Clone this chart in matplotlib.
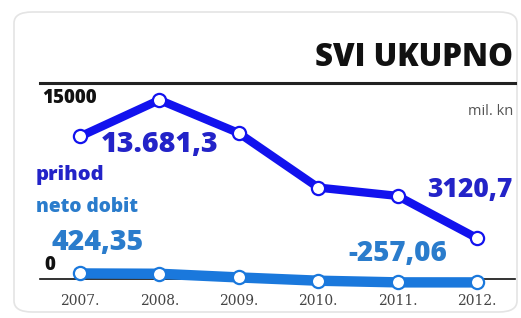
import matplotlib
matplotlib.use('Agg')
import matplotlib.pyplot as plt
from matplotlib.patches import FancyBboxPatch

# ===================== DATA =====================
years = [2007, 2008, 2009, 2010, 2011, 2012]
year_labels = ['2007.', '2008.', '2009.', '2010.', '2011.', '2012.']
prihod = [10890, 13681.3, 11150, 6985, 6350, 3120.7]
neto_dobit = [424.35, 400, 120, -130, -257.06, -260]

C_PRIHOD = '#1212ee'
C_NETO = '#1a78dc'
C_PRIHOD_TXT = '#2323c8'
C_NETO_TXT = '#2a7ccc'

plt.rcParams['font.family'] = ['Open Sans', 'DejaVu Sans']

W, H = 521, 318
fig = plt.figure(figsize=(W / 100, H / 100), dpi=100)
fig.patch.set_facecolor('white')

# card background
card = FancyBboxPatch((14 / W, 6 / H), 503 / W, 300 / H,
                      boxstyle='round,pad=0,rounding_size=0.035',
                      transform=fig.transFigure, facecolor='white',
                      edgecolor='#e4e4e4', linewidth=1.2, zorder=-5)
fig.patches.append(card)

x_left = 2007 - 40 / 79.4
x_right = 2012 + 38 / 79.4

ax = fig.add_axes([40 / W, 1 - 279 / H, 475 / W, (279 - 82.7) / H])
ax.set_zorder(2)
ax.set_xlim(x_left, x_right)
ax.set_ylim(0, 15000)
ax.axis('off')

# lines
ax.axhline(15000, color='#222222', linewidth=2.2, clip_on=False, zorder=1)
ax.axhline(0, color='#111111', linewidth=1.2, clip_on=False, zorder=1)

ax.plot(years, prihod, color=C_PRIHOD, linewidth=6, marker='o', markersize=9.5,
        markerfacecolor='white', markeredgecolor=C_PRIHOD, markeredgewidth=1.6,
        clip_on=False, zorder=3)
ax.plot(years, neto_dobit, color=C_NETO, linewidth=7.5, marker='o', markersize=9.5,
        markerfacecolor='white', markeredgecolor=C_NETO, markeredgewidth=1.6,
        clip_on=False, zorder=3)

# x labels
for x, lab in zip(years, year_labels):
    ax.text(x, -1150, lab, ha='center', va='top',
            fontsize=10, color='#444444', family=['DejaVu Serif'])

# y labels
ax.text(x_left + 0.025, 13466, '15000', ha='left', va='baseline',
        fontsize=13.5, fontweight='heavy', color='#111111')
ax.text(x_left + 0.06, 690, '0', ha='left', va='baseline',
        fontsize=13.5, fontweight='heavy', color='#111111')
ax.text(x_right - 0.02, 12548, 'mil. kn', ha='right', va='baseline',
        fontsize=10.5, color='#555555')

# value labels
ax.text(2008, 9717, '13.681,3', ha='center', va='baseline', fontsize=20.5,
        fontweight='heavy', color=C_PRIHOD_TXT)
ax.text(x_right - 0.03, 6270, '3120,7', ha='right', va='baseline',
        fontsize=19, fontweight='heavy', color=C_PRIHOD_TXT)
ax.text(2006.647, 2220, '424,35', ha='left', va='baseline', fontsize=20.5,
        fontweight='heavy', color=C_NETO_TXT)
ax.text(2010.383, 1380, '-257,06', ha='left', va='baseline', fontsize=20,
        fontweight='heavy', color=C_NETO_TXT)

# legend words
ax.text(2006.446, 7575, 'prihod', ha='left', va='baseline', fontsize=14.5,
        fontweight='heavy', color=C_PRIHOD_TXT)
ax.text(2006.446, 5126, 'neto dobit', ha='left', va='baseline', fontsize=13.8,
        fontweight='heavy', color=C_NETO_TXT)

# title
fig.text(513 / W, 1 - 58 / H, 'SVI UKUPNO', ha='right', va='center',
         fontsize=22.5, fontweight='heavy', color='#111111')

fig.savefig('out.png', dpi=100)
